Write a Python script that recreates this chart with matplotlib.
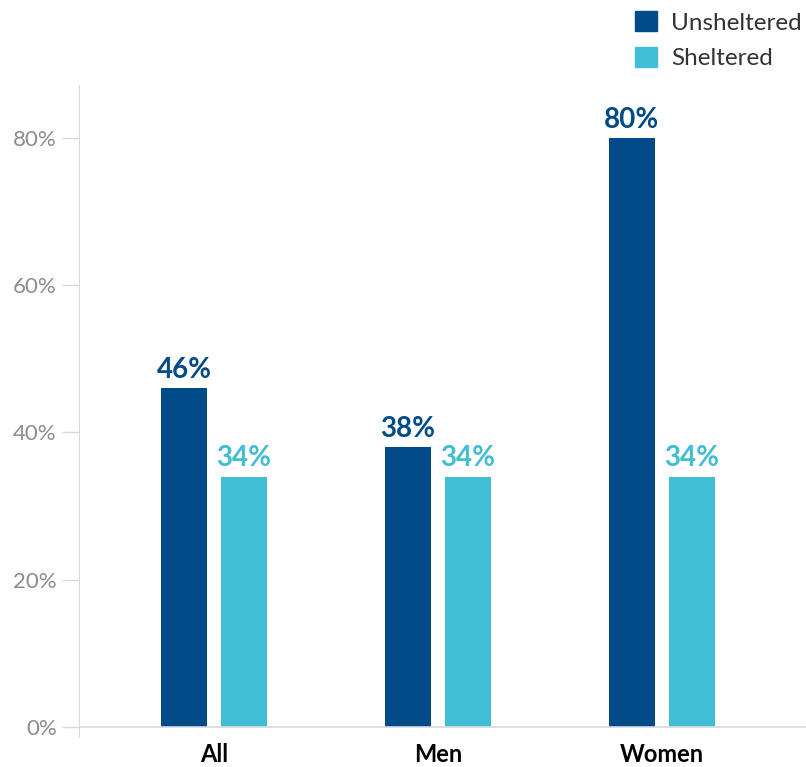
import matplotlib.pyplot as plt
import numpy as np
from matplotlib.patches import Patch

categories = ["All", "Men", "Women"]
unsheltered = [46, 38, 80]
sheltered = [34, 34, 34]
yticks = [0, 20, 40, 60, 80]

dark = "#004b87"
light = "#41bdd5"

plt.rcParams["font.family"] = ["Lato", "DejaVu Sans"]

fig = plt.figure(figsize=(8.06, 7.67), dpi=100)
ax = fig.add_axes([0.098, 0.039, 0.902, 0.850])

x = np.arange(len(categories))
w = 0.205
off = 0.134
ax.bar(x - off, unsheltered, w, color=dark)
ax.bar(x + off, sheltered, w, color=light)

# value labels above the bars
for xi, u, s in zip(x, unsheltered, sheltered):
    ax.annotate(f"{u}%", (xi - off, u), xytext=(0, 4), textcoords="offset points",
                ha="center", va="bottom", fontsize=20, fontweight="bold", color=dark)
    ax.annotate(f"{s}%", (xi + off, s), xytext=(0, 4), textcoords="offset points",
                ha="center", va="bottom", fontsize=20, fontweight="bold", color=light)

ax.set_xlim(-0.603, 2.643)
ax.set_ylim(-1.4, 87.2)
ax.set_yticks(yticks)
ax.set_yticklabels([f"{t}%" for t in yticks], fontsize=16, color="#8c8c8c")
ax.set_xticks(x)
ax.set_xticklabels(categories, fontsize=17, fontweight="bold", color="black")
ax.tick_params(axis="y", length=12, color="#d9d9d9", width=1, pad=4)
ax.tick_params(axis="x", length=0, pad=4)

ax.axhline(0, color="#d9d9d9", lw=1.2, clip_on=False)
ax.spines[["top", "right", "bottom"]].set_visible(False)
ax.spines["left"].set_color("#d9d9d9")

handles = [Patch(color=dark, label="Unsheltered"), Patch(color=light, label="Sheltered")]
fig.legend(handles=handles, loc="upper right", bbox_to_anchor=(1.022, 1.014), frameon=False,
           fontsize=17.5, handlelength=0.9, handleheight=0.9, handletextpad=0.6,
           labelspacing=0.55, labelcolor="#333333")

fig.savefig("out.png", dpi=100)
